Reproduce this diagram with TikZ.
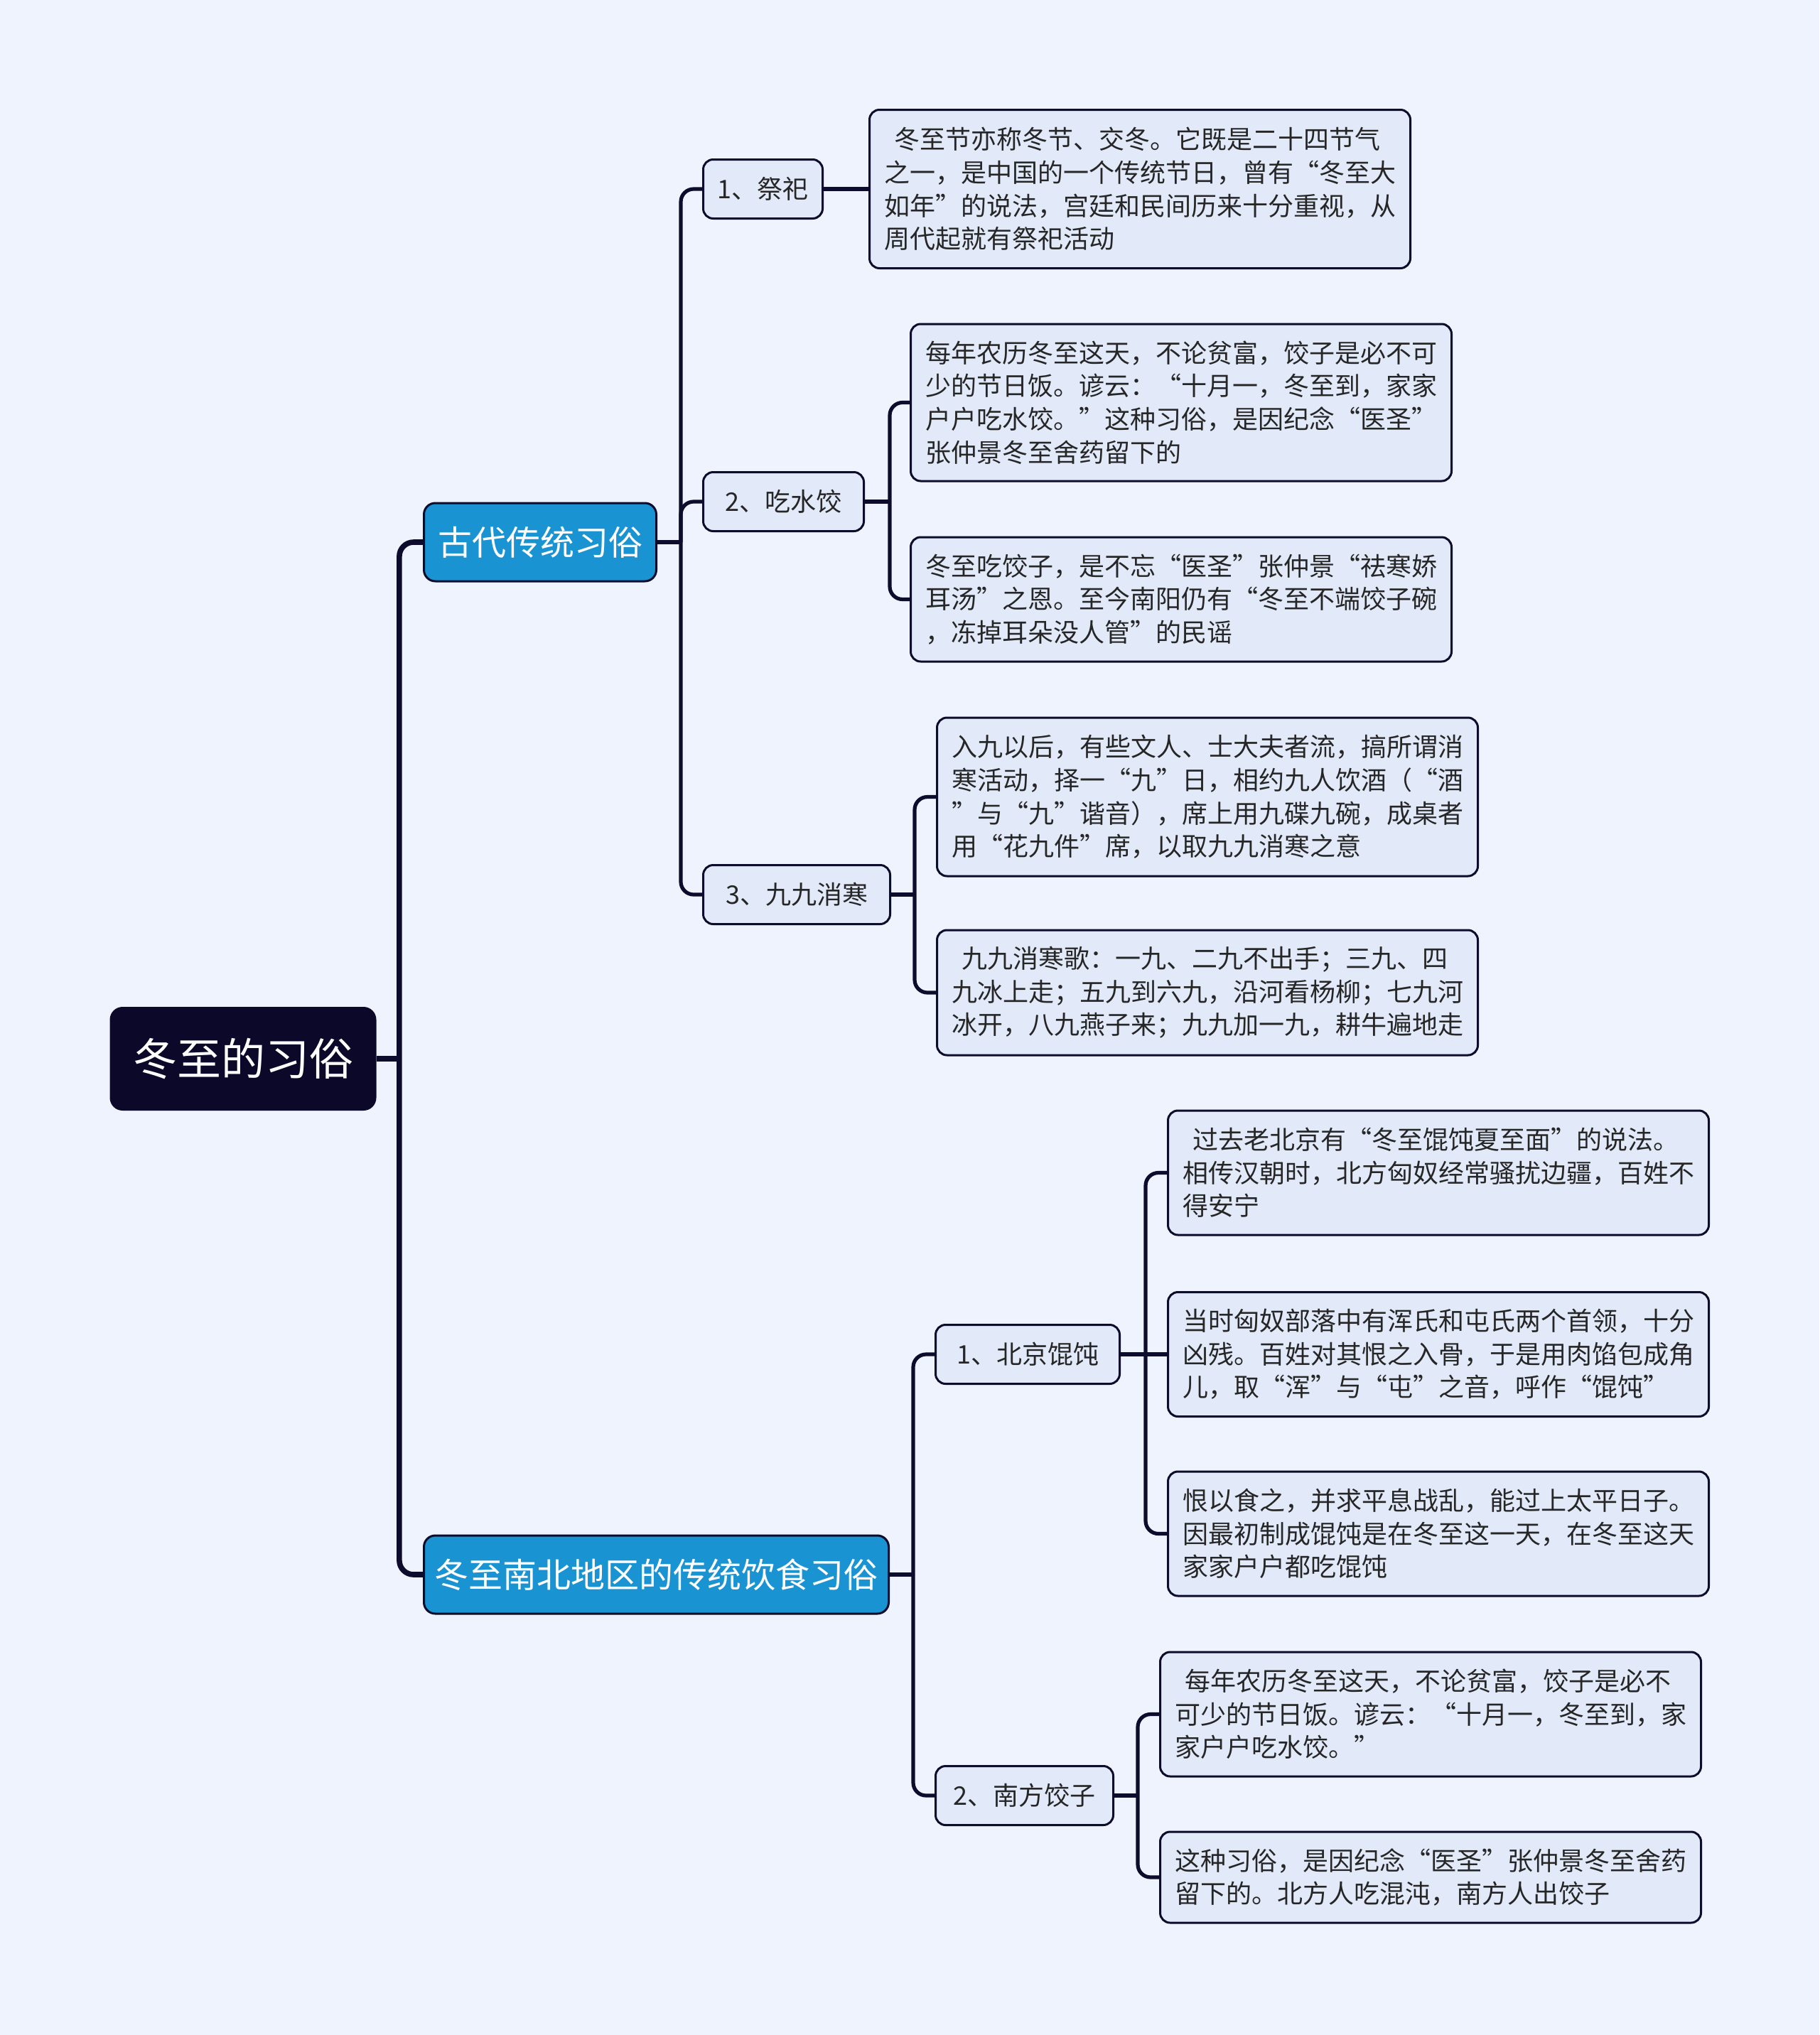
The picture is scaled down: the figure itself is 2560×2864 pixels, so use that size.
\documentclass[tikz,border=0pt]{standalone}
\usepackage{fontspec}
\setmainfont{Noto Sans CJK SC}
\definecolor{bgpaper}{HTML}{EEF3FE}
\definecolor{leaffill}{HTML}{E2EAFA}
\definecolor{linkdark}{HTML}{0E0C2C}
\definecolor{mainblue}{HTML}{1A93D2}
\definecolor{rootnavy}{HTML}{0B0829}
\definecolor{textdark}{HTML}{262626}
\tikzset{
  link/.style={draw=linkdark, line width=2.6pt, rounded corners=9pt},
  rootlink/.style={link, line width=3.8pt, rounded corners=10pt},
  rootbox/.style={fill=rootnavy, text=white, rounded corners=9pt,
    minimum width=187.5pt, minimum height=73pt, font=\fontsize{31pt}{36pt}\selectfont},
  mainbox/.style={fill=mainblue, draw=linkdark, line width=1.5pt, text=white, anchor=west,
    rounded corners=8pt, minimum height=55pt, font=\fontsize{24pt}{28pt}\selectfont},
  subbox/.style={fill=leaffill, draw=linkdark, line width=1.5pt, text=textdark, anchor=west,
    rounded corners=7pt, minimum height=41.5pt, font=\fontsize{18pt}{22pt}\selectfont},
  leafbox/.style={fill=leaffill, draw=linkdark, line width=1.5pt, text=textdark, anchor=west,
    rounded corners=7pt, text width=360pt, inner xsep=10.25pt, align=left,
    font=\fontsize{18pt}{23.3pt}\selectfont}
}
\begin{document}
\begin{tikzpicture}[x=0.5pt,y=-0.5pt]
  \fill[bgpaper] (0,0) rectangle (2560,2864);
  \useasboundingbox (0,0) rectangle (2560,2864);

  \node[rootbox] (root) at (342,1490) {冬至的习俗};
  \node[mainbox, minimum width=163.5pt] (gudai) at (595,763) {古代传统习俗};
  \node[mainbox, minimum width=327pt] (nanbei) at (595,2216) {冬至南北地区的传统饮食习俗};

  \node[subbox, minimum width=84pt] (jisi) at (988,266) {1、祭祀};
  \node[subbox, minimum width=113pt] (shuijiao) at (988,706) {2、吃水饺};
  \node[subbox, minimum width=131.5pt] (jiujiu) at (988,1259) {3、九九消寒};
  \node[subbox, minimum width=129.5pt] (beijing) at (1315,1906) {1、北京馄饨};
  \node[subbox, minimum width=125pt] (nanfang) at (1315,2527) {2、南方饺子};

  \node[leafbox, minimum height=111.5pt] (jisiA) at (1222,266) {\hspace*{.4em}冬至节亦称冬节、交冬。它既是二十四节气\\之一，是中国的一个传统节日，曾有“冬至大\\如年”的说法，宫廷和民间历来十分重视，从\\周代起就有祭祀活动};
  \node[leafbox, minimum height=110.5pt] (shuijiaoA) at (1280,566.5) {每年农历冬至这天，不论贫富，饺子是必不可\\少的节日饭。谚云：“十月一，冬至到，家家\\户户吃水饺。”这种习俗，是因纪念“医圣”\\张仲景冬至舍药留下的};
  \node[leafbox, minimum height=87.5pt] (shuijiaoB) at (1280,843.5) {冬至吃饺子，是不忘“医圣”张仲景“祛寒娇\\耳汤”之恩。至今南阳仍有“冬至不端饺子碗\\，冻掉耳朵没人管”的民谣};
  \node[leafbox, minimum height=111.5pt] (jiujiuA) at (1317,1121.5) {入九以后，有些文人、士大夫者流，搞所谓消\\寒活动，择一“九”日，相约九人饮酒（“酒\\”与“九”谐音），席上用九碟九碗，成桌者\\用“花九件”席，以取九九消寒之意};
  \node[leafbox, minimum height=88pt] (jiujiuB) at (1317,1397) {\hspace*{.4em}九九消寒歌：一九、二九不出手；三九、四\\九冰上走；五九到六九，沿河看杨柳；七九河\\冰开，八九燕子来；九九加一九，耕牛遍地走};
  \node[leafbox, minimum height=87.5pt] (beijingA) at (1642,1650.5) {\hspace*{.4em}过去老北京有“冬至馄饨夏至面”的说法。\\相传汉朝时，北方匈奴经常骚扰边疆，百姓不\\得安宁};
  \node[leafbox, minimum height=87.5pt] (beijingB) at (1642,1906) {当时匈奴部落中有浑氏和屯氏两个首领，十分\\凶残。百姓对其恨之入骨，于是用肉馅包成角\\儿，取“浑”与“屯”之音，呼作“馄饨”};
  \node[leafbox, minimum height=87.5pt] (beijingC) at (1642,2158.5) {恨以食之，并求平息战乱，能过上太平日子。\\因最初制成馄饨是在冬至这一天，在冬至这天\\家家户户都吃馄饨};
  \node[leafbox, minimum height=87.5pt] (nanfangA) at (1631,2412.5) {\hspace*{.4em}每年农历冬至这天，不论贫富，饺子是必不\\可少的节日饭。谚云：“十月一，冬至到，家\\家户户吃水饺。”};
  \node[leafbox, minimum height=64pt] (nanfangB) at (1631,2642) {这种习俗，是因纪念“医圣”张仲景冬至舍药\\留下的。北方人吃混沌，南方人出饺子};

  \coordinate (jroot) at ([xshift=16pt]root.east);
  \coordinate (jgudai) at ([xshift=16.5pt]gudai.east);
  \coordinate (jnanbei) at ([xshift=16.5pt]nanbei.east);
  \coordinate (jshuijiao) at ([xshift=17.5pt]shuijiao.east);
  \coordinate (jjiujiu) at ([xshift=16.5pt]jiujiu.east);
  \coordinate (jbeijing) at ([xshift=17.5pt]beijing.east);
  \coordinate (jnanfang) at ([xshift=16.5pt]nanfang.east);

  \begin{scope}[rootlink]
    \draw (root.east) -- (jroot);
    \draw (jroot) |- (gudai.west);
    \draw (jroot) |- (nanbei.west);
  \end{scope}
  \begin{scope}[link]
    \draw (gudai.east) -- (jgudai);
    \draw (jgudai) |- (jisi.west);
    \draw (jgudai) |- (shuijiao.west);
    \draw (jgudai) |- (jiujiu.west);
    \draw (jisi.east) -- (jisiA.west);
    \draw (shuijiao.east) -- (jshuijiao);
    \draw (jshuijiao) |- (shuijiaoA.west);
    \draw (jshuijiao) |- (shuijiaoB.west);
    \draw (jiujiu.east) -- (jjiujiu);
    \draw (jjiujiu) |- (jiujiuA.west);
    \draw (jjiujiu) |- (jiujiuB.west);
    \draw (nanbei.east) -- (jnanbei);
    \draw (jnanbei) |- (beijing.west);
    \draw (jnanbei) |- (nanfang.west);
    \draw (beijing.east) -- (beijingB.west);
    \draw (jbeijing) |- (beijingA.west);
    \draw (jbeijing) |- (beijingC.west);
    \draw (nanfang.east) -- (jnanfang);
    \draw (jnanfang) |- (nanfangA.west);
    \draw (jnanfang) |- (nanfangB.west);
  \end{scope}
\end{tikzpicture}
\end{document}
